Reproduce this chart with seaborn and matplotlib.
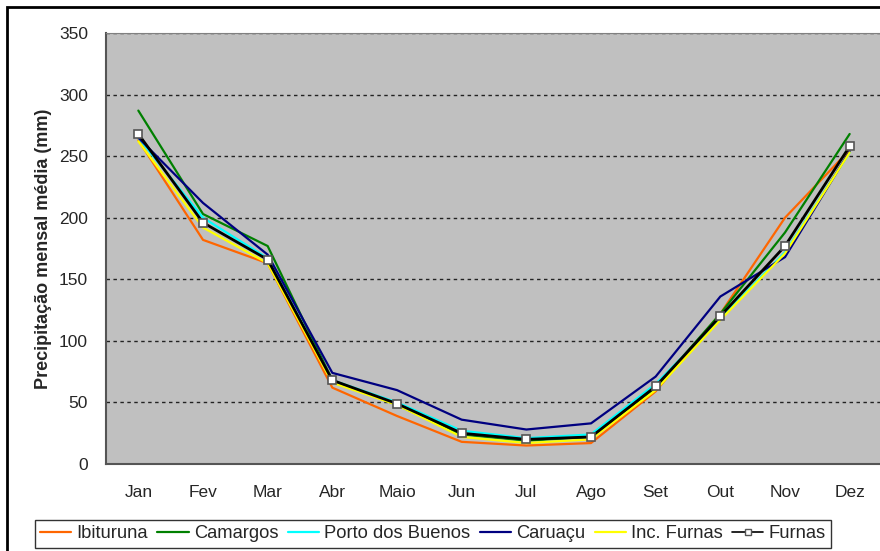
import numpy as np
import pandas as pd
import matplotlib
matplotlib.use("Agg")
import matplotlib.pyplot as plt
from matplotlib.lines import Line2D
from matplotlib.patches import Rectangle
import seaborn as sns

meses = ["Jan", "Fev", "Mar", "Abr", "Maio", "Jun", "Jul", "Ago", "Set", "Out", "Nov", "Dez"]

ibituruna = [263, 182, 163, 62, 39, 18, 15, 17, 59, 122, 200, 255]
camargos = [287, 203, 177, 68, 48, 24, 19, 22, 62, 122, 188, 268]
porto_buenos = [265, 200, 167, 68, 50, 27, 21, 24, 65, 118, 172, 253]
caruacu = [265, 212, 170, 74, 60, 36, 28, 33, 71, 136, 168, 254]
inc_furnas = [262, 192, 163, 66, 48, 22, 17, 20, 60, 117, 171, 253]
furnas = [268, 196, 166, 68, 49, 25, 20, 22, 63, 120, 177, 258]

series = {
    "Ibituruna": (ibituruna, "#FF6600"),
    "Camargos": (camargos, "#008000"),
    "Porto dos Buenos": (porto_buenos, "#00FFFF"),
    "Caruaçu": (caruacu, "#000080"),
    "Inc. Furnas": (inc_furnas, "#FFFF00"),
}

sns.set_style("white")
plt.rcParams["font.family"] = ["Liberation Sans", "DejaVu Sans"]

fig = plt.figure(figsize=(8.8, 5.51), dpi=100)
ax = fig.add_axes([106 / 880, 1 - 464 / 551, 776 / 880, 431 / 551])
ax.set_facecolor("#C0C0C0")

x = np.arange(len(meses))
handles = []
for nome, (vals, cor) in series.items():
    df = pd.DataFrame({"mes": x, "valor": vals})
    sns.lineplot(data=df, x="mes", y="valor", color=cor, linewidth=1.6, ax=ax)
    handles.append(Line2D([], [], color=cor, linewidth=1.6))

df = pd.DataFrame({"mes": x, "valor": furnas})
sns.lineplot(data=df, x="mes", y="valor", color="black", linewidth=2, marker="s",
             markersize=6, markerfacecolor="white", markeredgecolor="#555555",
             markeredgewidth=1.2, ax=ax)
handles.append(Line2D([], [], color="black", linewidth=1.2, marker="s", markersize=5,
                      markerfacecolor="white", markeredgecolor="#555555"))

ax.set_xlim(-0.5, 11.5)
ax.set_ylim(0, 350)
ax.set_yticks(np.arange(0, 351, 50))
ax.set_yticks(np.arange(0, 351, 10), minor=True)
ax.yaxis.grid(True, which="major", color="#222222", linestyle=(0, (2.5, 2.5)), linewidth=1)
ax.tick_params(axis="y", which="major", direction="out", length=6, width=1, color="#555555",
               labelsize=12.5, pad=7)
ax.tick_params(axis="y", which="minor", direction="in", length=5, width=1, color="#555555")

ax.set_xticks(np.arange(-0.5, 12, 1))
ax.set_xticklabels([])
ax.set_xticks(x, minor=True)
ax.set_xticklabels(meses, minor=True)
ax.tick_params(axis="x", which="major", direction="out", length=6, width=1, color="#555555")
ax.tick_params(axis="x", which="minor", length=0, labelsize=12.5, pad=15)

ax.set_xlabel("")
ax.set_ylabel("Precipitação mensal média (mm)", fontsize=13, fontweight="bold", labelpad=5)

for s in ["left", "bottom"]:
    ax.spines[s].set_color("#555555")
    ax.spines[s].set_linewidth(1.5)
ax.spines["top"].set_color("#808080")
ax.spines["right"].set_visible(False)

leg = fig.legend(handles, list(series.keys()) + ["Furnas"], ncol=6, loc="center",
                 bbox_to_anchor=(433 / 880, 1 - 534 / 551), fontsize=13.2, frameon=True,
                 fancybox=False, edgecolor="black", handlelength=1.7, handletextpad=0.3,
                 columnspacing=0.5, borderpad=0.3)
leg.get_frame().set_linewidth(1)

fig.patches.append(Rectangle((7 / 880, -0.1), 1.2, 1.1 - 7 / 551, transform=fig.transFigure,
                             fill=False, edgecolor="black", linewidth=2))

fig.savefig("out.png", dpi=100)
